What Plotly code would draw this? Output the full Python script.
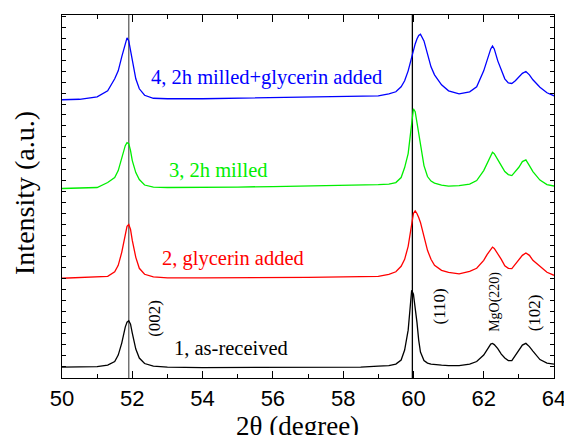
import plotly.graph_objects as go

two_theta = [50.0, 50.5, 51.0, 51.3, 51.5, 51.6, 51.7, 51.8, 51.85, 51.9, 51.95, 52.0, 52.1, 52.2, 52.35, 52.6,
             53.0, 54.0, 55.0, 56.0, 57.0, 58.0, 58.5, 59.0, 59.3, 59.5, 59.65, 59.75, 59.85, 59.9, 59.95,
             60.0, 60.05, 60.1, 60.15, 60.2, 60.3, 60.4, 60.5, 60.6, 60.8, 61.0, 61.3, 61.6, 61.8, 62.0,
             62.1, 62.2, 62.25, 62.3, 62.4, 62.5, 62.6, 62.7, 62.8, 62.9, 63.0, 63.1, 63.2, 63.3, 63.4,
             63.6, 63.8, 64.0]

s1_as_received = [11, 11, 11.5, 13, 16.5, 23, 35, 51, 56, 57.5, 54, 45, 29, 20, 14.5, 12,
                  11, 10.5, 10.5, 10.5, 10.5, 10.5, 11, 12, 12.5, 14, 18, 28, 48, 68, 88,
                  84, 72, 56, 38, 26, 17.5, 15, 14, 13.5, 13, 12.5, 12.5, 14, 16.5, 23,
                  29, 34, 34.7, 33.5, 29.5, 24, 20, 17.5, 17.5, 22.5, 28, 33, 34.7, 31.5, 27,
                  18.5, 15, 14]

s2_glycerin = [100, 100.5, 101, 102, 106.5, 113, 126, 143, 152, 154, 149, 138, 121, 110, 104, 101.5,
               100.5, 100.5, 100.5, 101, 101, 101.5, 101.5, 102, 104, 106.5, 112, 119, 132, 142, 154,
               165, 167.5, 165, 161, 156, 142, 128, 119, 113, 108, 106, 104.5, 107, 110, 118,
               124, 129, 131.3, 130, 125, 119, 112.5, 110, 109.7, 114, 118, 123, 125.3, 123, 118,
               111.5, 106, 103]

s3_milled = [190, 190.5, 191, 196, 201, 208, 220, 233, 236, 235, 228, 218, 206, 199, 193.5, 191.5,
             191, 191, 191.5, 192, 192.5, 193, 193.5, 194, 194.5, 196, 201, 211, 225, 240, 258,
             270, 267, 256, 242, 232, 213, 202, 197.5, 195.5, 193.5, 192.5, 193, 194.5, 198, 208,
             216, 224, 226.3, 225, 219.5, 213, 207, 204, 203, 207, 211.3, 217, 218.7, 213, 207,
             198.5, 194, 192.5]

s4_milled_glycerin = [279, 279.5, 282, 288, 300, 308, 322, 336, 341, 338, 329, 318, 300, 290, 283.5, 280.5,
                      280, 280, 280.5, 281, 281.5, 282, 282.5, 283, 285, 287, 292, 298, 308, 315, 323,
                      330, 335, 340, 343.5, 344.7, 338, 325, 312, 304, 294, 288, 285, 287, 292, 308,
                      320, 330, 333, 330, 318, 308, 300, 296, 295.3, 298, 301.3, 305.5, 307.3, 304, 299,
                      291.5, 286, 283]

series_names = ["1, as-received", "2, glycerin added", "3, 2h milled", "4, 2h milled+glycerin added"]
series_values = [s1_as_received, s2_glycerin, s3_milled, s4_milled_glycerin]
series_colors = ["#000000", "#ff0000", "#00ee00", "#0000ff"]

# label positions (x in degrees, y in intensity units)
label_x = [54.8, 54.87, 54.45, 55.83]
label_y = [30, 120, 209, 301]

ref_lines = [51.9, 59.97]
ref_colors = ["#606060", "#000000"]

peak_labels = ["(002)", "(110)", "MgO(220)", "(102)"]
peak_x = [52.65, 60.75, 62.34, 63.45]
peak_y = [59.5, 71.5, 76, 65.5]
peak_sizes = [17, 17, 14, 17]

SERIF = "Liberation Serif, Times New Roman, serif"
SANS = "Liberation Sans, Arial, sans-serif"

fig = go.Figure()
for name, vals, col in zip(series_names, series_values, series_colors):
    fig.add_trace(go.Scatter(x=two_theta, y=vals, mode="lines", name=name,
                             line=dict(color=col, width=1.3), showlegend=False))

for xv, c in zip(ref_lines, ref_colors):
    fig.add_shape(type="line", xref="x", yref="paper", x0=xv, x1=xv, y0=0, y1=1,
                  line=dict(color=c, width=1.3), layer="below")

for name, xv, yv, col in zip(series_names, label_x, label_y, series_colors):
    fig.add_annotation(x=xv, y=yv, text=name, showarrow=False, xanchor="center", yanchor="middle",
                       font=dict(family=SERIF, size=20.5, color=col))

for t, xv, yv, sz in zip(peak_labels, peak_x, peak_y, peak_sizes):
    fig.add_annotation(x=xv, y=yv, text=t, showarrow=False, textangle=-90,
                       xanchor="center", yanchor="middle",
                       font=dict(family=SERIF, size=sz, color="#000000"))

fig.add_annotation(xref="paper", yref="paper", x=-0.075, y=0.51, text="Intensity (a.u.)",
                   showarrow=False, textangle=-90, xanchor="center", yanchor="middle",
                   font=dict(family=SERIF, size=28, color="#000000"))
fig.add_annotation(xref="paper", yref="paper", x=0.478, y=-0.132, text="2θ (degree)",
                   showarrow=False, xanchor="center", yanchor="middle",
                   font=dict(family=SERIF, size=27, color="#000000"))

fig.update_layout(
    width=564, height=427,
    margin=dict(l=54, r=13, t=6, b=57),
    paper_bgcolor="white", plot_bgcolor="white",
    xaxis=dict(range=[50, 64], dtick=2, tick0=50, ticks="inside", ticklen=7, tickwidth=1,
               tickcolor="black", showline=True, linecolor="black", linewidth=1.3, mirror="ticks",
               showgrid=False, zeroline=False,
               tickfont=dict(family=SANS, size=22, color="black"),
               minor=dict(dtick=1, ticks="inside", ticklen=4, tickcolor="black", showgrid=False)),
    yaxis=dict(range=[0, 364], tick0=1, dtick=10.95, ticks="inside", ticklen=4, tickcolor="black",
               showticklabels=False, showline=True, linecolor="black", linewidth=1.3, mirror="ticks",
               showgrid=False, zeroline=False),
)

fig.write_html("out.html")
